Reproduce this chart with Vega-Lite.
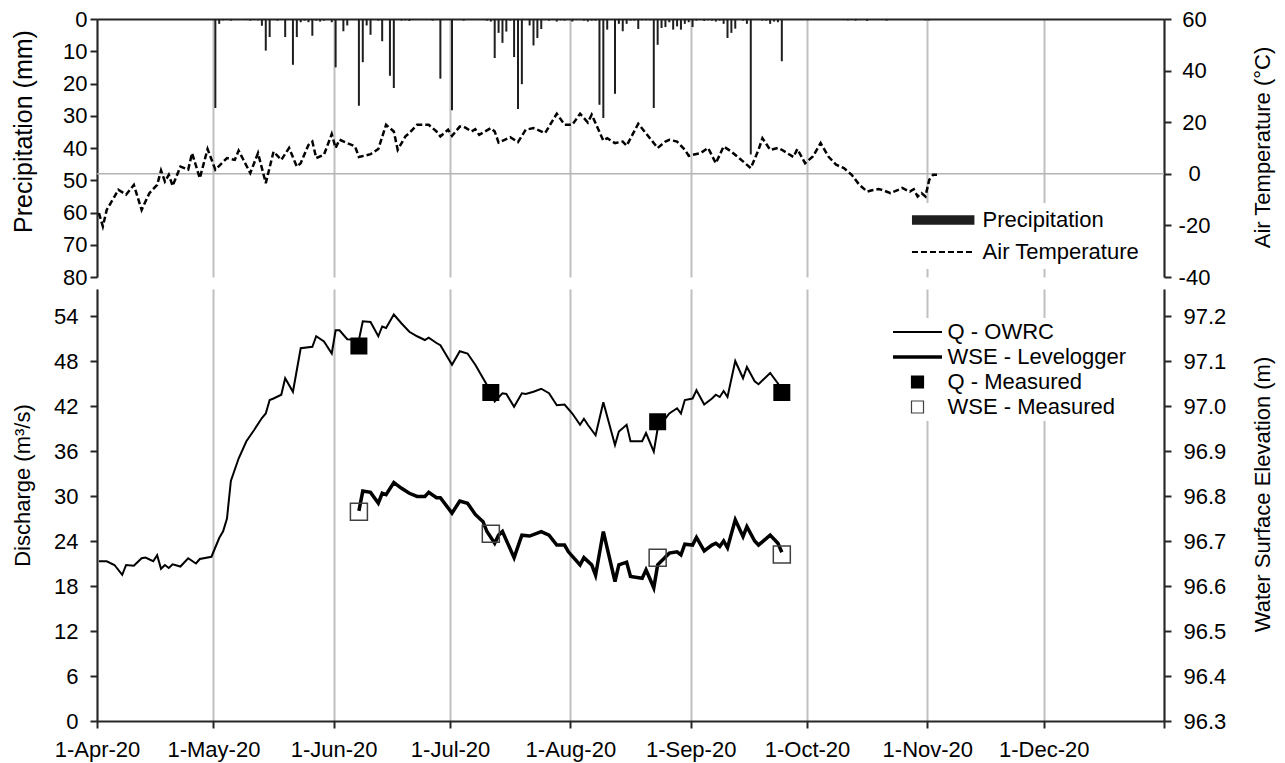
{
  "$schema": "https://vega.github.io/schema/vega-lite/v6.json",
  "padding": {"left": 11, "top": 8, "right": 5, "bottom": 5},
  "config": {
    "font": "Liberation Sans",
    "view": {"stroke": null},
    "axis": {"labelFont": "Liberation Sans", "titleFont": "Liberation Sans", "labelFontSize": 22, "labelColor": "#000000", "titleFontSize": 22, "titleFontWeight": "normal", "titleColor": "#000000", "domainColor": "#262626", "domainWidth": 2, "tickColor": "#262626", "tickWidth": 2, "tickSize": 7, "grid": false},
    "legend": {"labelFont": "Liberation Sans", "labelFontSize": 22, "labelColor": "#000000", "labelLimit": 400}
  },
  "datasets": {
    "zero": [{"degC": 0}],
    "temp": [
      {"date": "2020-04-01T12:00", "degC": -15.2}, {"date": "2020-04-02T12:00", "degC": -20.4}, {"date": "2020-04-03T12:00", "degC": -14.0},
      {"date": "2020-04-05T12:00", "degC": -8.8}, {"date": "2020-04-06T12:00", "degC": -6.2}, {"date": "2020-04-08T12:00", "degC": -8.1},
      {"date": "2020-04-10T12:00", "degC": -4.3}, {"date": "2020-04-12T12:00", "degC": -14.0}, {"date": "2020-04-14T12:00", "degC": -7.5},
      {"date": "2020-04-16T12:00", "degC": -4.3}, {"date": "2020-04-17T12:00", "degC": 1.3}, {"date": "2020-04-18T12:00", "degC": -3.0},
      {"date": "2020-04-19T12:00", "degC": -0.4}, {"date": "2020-04-20T12:00", "degC": -4.7}, {"date": "2020-04-22T12:00", "degC": 2.8},
      {"date": "2020-04-24T12:00", "degC": 1.6}, {"date": "2020-04-25T12:00", "degC": 8.0}, {"date": "2020-04-27T12:00", "degC": -1.7},
      {"date": "2020-04-29T12:00", "degC": 9.6}, {"date": "2020-05-01T12:00", "degC": 1.6}, {"date": "2020-05-04T12:00", "degC": 6.1},
      {"date": "2020-05-06T12:00", "degC": 5.4}, {"date": "2020-05-07T12:00", "degC": 9.0}, {"date": "2020-05-10T12:00", "degC": 0.3},
      {"date": "2020-05-12T12:00", "degC": 8.0}, {"date": "2020-05-14T12:00", "degC": -3.6}, {"date": "2020-05-16T12:00", "degC": 8.6},
      {"date": "2020-05-18T12:00", "degC": 5.4}, {"date": "2020-05-20T12:00", "degC": 10.0}, {"date": "2020-05-22T12:00", "degC": 2.8},
      {"date": "2020-05-23T12:00", "degC": 4.1}, {"date": "2020-05-25T12:00", "degC": 11.2}, {"date": "2020-05-26T12:00", "degC": 12.5},
      {"date": "2020-05-27T12:00", "degC": 6.1}, {"date": "2020-05-29T12:00", "degC": 7.4}, {"date": "2020-05-31T12:00", "degC": 15.4},
      {"date": "2020-06-01T12:00", "degC": 10.0}, {"date": "2020-06-02T12:00", "degC": 13.2}, {"date": "2020-06-04T12:00", "degC": 11.9},
      {"date": "2020-06-06T12:00", "degC": 10.6}, {"date": "2020-06-07T12:00", "degC": 6.5}, {"date": "2020-06-10T12:00", "degC": 7.6},
      {"date": "2020-06-12T12:00", "degC": 9.6}, {"date": "2020-06-14T12:00", "degC": 19.0}, {"date": "2020-06-16T12:00", "degC": 16.4},
      {"date": "2020-06-17T12:00", "degC": 9.3}, {"date": "2020-06-19T12:00", "degC": 14.5}, {"date": "2020-06-20T12:00", "degC": 15.8},
      {"date": "2020-06-22T12:00", "degC": 19.0}, {"date": "2020-06-25T12:00", "degC": 19.0}, {"date": "2020-06-27T12:00", "degC": 16.4},
      {"date": "2020-06-28T12:00", "degC": 14.5}, {"date": "2020-06-30T12:00", "degC": 17.1}, {"date": "2020-07-01T12:00", "degC": 14.7},
      {"date": "2020-07-03T12:00", "degC": 18.3}, {"date": "2020-07-04T12:00", "degC": 18.3}, {"date": "2020-07-06T12:00", "degC": 16.4},
      {"date": "2020-07-07T12:00", "degC": 17.3}, {"date": "2020-07-08T12:00", "degC": 15.1}, {"date": "2020-07-11T12:00", "degC": 17.7},
      {"date": "2020-07-12T12:00", "degC": 16.4}, {"date": "2020-07-13T12:00", "degC": 12.1}, {"date": "2020-07-16T12:00", "degC": 14.2},
      {"date": "2020-07-18T12:00", "degC": 12.3}, {"date": "2020-07-20T12:00", "degC": 17.1}, {"date": "2020-07-22T12:00", "degC": 17.7},
      {"date": "2020-07-25T12:00", "degC": 15.8}, {"date": "2020-07-28T12:00", "degC": 23.3}, {"date": "2020-07-30T12:00", "degC": 19.0},
      {"date": "2020-08-01T12:00", "degC": 19.0}, {"date": "2020-08-03T12:00", "degC": 23.3}, {"date": "2020-08-05T12:00", "degC": 19.9},
      {"date": "2020-08-06T12:00", "degC": 22.9}, {"date": "2020-08-07T12:00", "degC": 19.6}, {"date": "2020-08-09T12:00", "degC": 12.9},
      {"date": "2020-08-10T12:00", "degC": 13.8}, {"date": "2020-08-12T12:00", "degC": 11.9}, {"date": "2020-08-14T12:00", "degC": 12.5},
      {"date": "2020-08-15T12:00", "degC": 10.9}, {"date": "2020-08-18T12:00", "degC": 19.4}, {"date": "2020-08-21T12:00", "degC": 13.8},
      {"date": "2020-08-23T12:00", "degC": 10.0}, {"date": "2020-08-25T12:00", "degC": 12.5}, {"date": "2020-08-26T12:00", "degC": 13.2},
      {"date": "2020-08-28T12:00", "degC": 12.5}, {"date": "2020-08-30T12:00", "degC": 9.3}, {"date": "2020-08-31T12:00", "degC": 7.0},
      {"date": "2020-09-03T12:00", "degC": 8.0}, {"date": "2020-09-05T12:00", "degC": 10.0}, {"date": "2020-09-07T12:00", "degC": 4.1},
      {"date": "2020-09-09T12:00", "degC": 10.6}, {"date": "2020-09-11T12:00", "degC": 8.6}, {"date": "2020-09-14T12:00", "degC": 4.8},
      {"date": "2020-09-16T12:00", "degC": 2.2}, {"date": "2020-09-18T12:00", "degC": 9.3}, {"date": "2020-09-19T12:00", "degC": 13.8},
      {"date": "2020-09-21T12:00", "degC": 9.3}, {"date": "2020-09-23T12:00", "degC": 10.0}, {"date": "2020-09-24T12:00", "degC": 9.3},
      {"date": "2020-09-27T12:00", "degC": 6.5}, {"date": "2020-09-28T12:00", "degC": 9.6}, {"date": "2020-09-30T12:00", "degC": 4.1},
      {"date": "2020-10-02T12:00", "degC": 6.7}, {"date": "2020-10-04T12:00", "degC": 11.9}, {"date": "2020-10-06T12:00", "degC": 6.7},
      {"date": "2020-10-08T12:00", "degC": 3.5}, {"date": "2020-10-10T12:00", "degC": 2.2}, {"date": "2020-10-12T12:00", "degC": -0.4},
      {"date": "2020-10-14T12:00", "degC": -4.3}, {"date": "2020-10-16T12:00", "degC": -6.9}, {"date": "2020-10-17T12:00", "degC": -6.5},
      {"date": "2020-10-19T12:00", "degC": -5.9}, {"date": "2020-10-20T12:00", "degC": -6.3}, {"date": "2020-10-22T12:00", "degC": -7.5},
      {"date": "2020-10-24T12:00", "degC": -6.2}, {"date": "2020-10-25T12:00", "degC": -5.5}, {"date": "2020-10-27T12:00", "degC": -6.9},
      {"date": "2020-10-28T12:00", "degC": -6.0}, {"date": "2020-10-29T12:00", "degC": -8.8}, {"date": "2020-10-30T12:00", "degC": -7.5},
      {"date": "2020-10-31T12:00", "degC": -8.8}, {"date": "2020-11-01T12:00", "degC": -2.3}, {"date": "2020-11-02T12:00", "degC": -0.4},
      {"date": "2020-11-03T12:00", "degC": -0.4}
    ],
    "precip": [
      {"date": "2020-05-01T12:00", "mm": 27.6}, {"date": "2020-05-02T12:00", "mm": 1.5}, {"date": "2020-05-03T12:00", "mm": 0.4},
      {"date": "2020-05-04T12:00", "mm": 0.3}, {"date": "2020-05-05T12:00", "mm": 0.5}, {"date": "2020-05-09T12:00", "mm": 0.3},
      {"date": "2020-05-10T12:00", "mm": 0.5}, {"date": "2020-05-11T12:00", "mm": 0.3}, {"date": "2020-05-12T12:00", "mm": 0.4},
      {"date": "2020-05-13T12:00", "mm": 2.1}, {"date": "2020-05-14T12:00", "mm": 9.8}, {"date": "2020-05-15T12:00", "mm": 5.6},
      {"date": "2020-05-17T12:00", "mm": 0.5}, {"date": "2020-05-19T12:00", "mm": 5.6}, {"date": "2020-05-21T12:00", "mm": 14.2},
      {"date": "2020-05-22T12:00", "mm": 5.6}, {"date": "2020-05-23T12:00", "mm": 1.0}, {"date": "2020-05-24T12:00", "mm": 0.5},
      {"date": "2020-05-25T12:00", "mm": 1.0}, {"date": "2020-05-26T12:00", "mm": 5.2}, {"date": "2020-05-27T12:00", "mm": 0.5},
      {"date": "2020-05-28T12:00", "mm": 0.8}, {"date": "2020-05-29T12:00", "mm": 0.5}, {"date": "2020-05-31T12:00", "mm": 1.0},
      {"date": "2020-06-01T12:00", "mm": 15.0}, {"date": "2020-06-03T12:00", "mm": 3.8}, {"date": "2020-06-04T12:00", "mm": 2.0},
      {"date": "2020-06-07T12:00", "mm": 26.9}, {"date": "2020-06-08T12:00", "mm": 13.4}, {"date": "2020-06-09T12:00", "mm": 2.0},
      {"date": "2020-06-10T12:00", "mm": 4.9}, {"date": "2020-06-12T12:00", "mm": 0.5}, {"date": "2020-06-13T12:00", "mm": 6.9},
      {"date": "2020-06-15T12:00", "mm": 17.6}, {"date": "2020-06-16T12:00", "mm": 21.4}, {"date": "2020-06-18T12:00", "mm": 0.5},
      {"date": "2020-06-19T12:00", "mm": 0.4}, {"date": "2020-06-20T12:00", "mm": 0.6}, {"date": "2020-06-21T12:00", "mm": 0.3},
      {"date": "2020-06-26T12:00", "mm": 0.5}, {"date": "2020-06-28T12:00", "mm": 18.5}, {"date": "2020-07-01T12:00", "mm": 28.3},
      {"date": "2020-07-04T12:00", "mm": 0.5}, {"date": "2020-07-10T12:00", "mm": 0.5}, {"date": "2020-07-11T12:00", "mm": 0.8},
      {"date": "2020-07-12T12:00", "mm": 12.1}, {"date": "2020-07-13T12:00", "mm": 4.3}, {"date": "2020-07-14T12:00", "mm": 7.4},
      {"date": "2020-07-15T12:00", "mm": 3.9}, {"date": "2020-07-16T12:00", "mm": 0.5}, {"date": "2020-07-17T12:00", "mm": 11.8},
      {"date": "2020-07-18T12:00", "mm": 27.9}, {"date": "2020-07-19T12:00", "mm": 20.2}, {"date": "2020-07-21T12:00", "mm": 2.0},
      {"date": "2020-07-22T12:00", "mm": 8.2}, {"date": "2020-07-23T12:00", "mm": 5.9}, {"date": "2020-07-24T12:00", "mm": 3.1},
      {"date": "2020-07-26T12:00", "mm": 0.5}, {"date": "2020-07-27T12:00", "mm": 0.3}, {"date": "2020-07-28T12:00", "mm": 0.8},
      {"date": "2020-07-29T12:00", "mm": 0.4}, {"date": "2020-07-30T12:00", "mm": 0.5}, {"date": "2020-08-01T12:00", "mm": 0.8},
      {"date": "2020-08-04T12:00", "mm": 0.5}, {"date": "2020-08-05T12:00", "mm": 0.8}, {"date": "2020-08-06T12:00", "mm": 0.5},
      {"date": "2020-08-07T12:00", "mm": 0.5}, {"date": "2020-08-08T12:00", "mm": 26.6}, {"date": "2020-08-09T12:00", "mm": 30.7},
      {"date": "2020-08-10T12:00", "mm": 3.3}, {"date": "2020-08-12T12:00", "mm": 23.2}, {"date": "2020-08-13T12:00", "mm": 1.5},
      {"date": "2020-08-14T12:00", "mm": 3.8}, {"date": "2020-08-15T12:00", "mm": 1.5}, {"date": "2020-08-16T12:00", "mm": 0.5},
      {"date": "2020-08-17T12:00", "mm": 0.5}, {"date": "2020-08-18T12:00", "mm": 3.1}, {"date": "2020-08-19T12:00", "mm": 0.4},
      {"date": "2020-08-20T12:00", "mm": 0.4}, {"date": "2020-08-21T12:00", "mm": 0.4}, {"date": "2020-08-22T12:00", "mm": 27.6},
      {"date": "2020-08-23T12:00", "mm": 8.0}, {"date": "2020-08-24T12:00", "mm": 2.8}, {"date": "2020-08-25T12:00", "mm": 2.5},
      {"date": "2020-08-26T12:00", "mm": 1.0}, {"date": "2020-08-27T12:00", "mm": 3.3}, {"date": "2020-08-28T12:00", "mm": 2.3},
      {"date": "2020-08-29T12:00", "mm": 3.3}, {"date": "2020-08-30T12:00", "mm": 1.5}, {"date": "2020-08-31T12:00", "mm": 1.0},
      {"date": "2020-09-01T12:00", "mm": 2.5}, {"date": "2020-09-02T12:00", "mm": 0.5}, {"date": "2020-09-03T12:00", "mm": 0.3},
      {"date": "2020-09-04T12:00", "mm": 0.6}, {"date": "2020-09-05T12:00", "mm": 0.4}, {"date": "2020-09-06T12:00", "mm": 0.5},
      {"date": "2020-09-07T12:00", "mm": 0.8}, {"date": "2020-09-08T12:00", "mm": 0.5}, {"date": "2020-09-09T12:00", "mm": 1.5},
      {"date": "2020-09-10T12:00", "mm": 5.9}, {"date": "2020-09-11T12:00", "mm": 4.3}, {"date": "2020-09-12T12:00", "mm": 3.0},
      {"date": "2020-09-14T12:00", "mm": 0.5}, {"date": "2020-09-15T12:00", "mm": 1.5}, {"date": "2020-09-16T12:00", "mm": 42.0},
      {"date": "2020-09-19T12:00", "mm": 0.5}, {"date": "2020-09-20T12:00", "mm": 0.5}, {"date": "2020-09-21T12:00", "mm": 1.5},
      {"date": "2020-09-22T12:00", "mm": 0.8}, {"date": "2020-09-23T12:00", "mm": 1.0}, {"date": "2020-09-24T12:00", "mm": 13.1},
      {"date": "2020-10-10T12:00", "mm": 0.3}, {"date": "2020-10-11T12:00", "mm": 0.4}, {"date": "2020-10-12T12:00", "mm": 0.3},
      {"date": "2020-10-13T12:00", "mm": 0.5}, {"date": "2020-10-16T12:00", "mm": 0.6}, {"date": "2020-10-21T12:00", "mm": 0.5},
      {"date": "2020-10-31T12:00", "mm": 0.4}, {"date": "2020-11-01T12:00", "mm": 0.4}
    ],
    "q": [
      {"date": "2020-04-01T12:00", "Q": 21.3}, {"date": "2020-04-03T12:00", "Q": 21.3}, {"date": "2020-04-05T12:00", "Q": 20.8},
      {"date": "2020-04-07T12:00", "Q": 19.5}, {"date": "2020-04-08T12:00", "Q": 20.8}, {"date": "2020-04-10T12:00", "Q": 20.7},
      {"date": "2020-04-12T12:00", "Q": 21.7}, {"date": "2020-04-13T12:00", "Q": 21.8}, {"date": "2020-04-15T12:00", "Q": 21.3},
      {"date": "2020-04-16T12:00", "Q": 22.1}, {"date": "2020-04-17T12:00", "Q": 20.3}, {"date": "2020-04-18T12:00", "Q": 20.8},
      {"date": "2020-04-19T12:00", "Q": 20.4}, {"date": "2020-04-20T12:00", "Q": 20.9}, {"date": "2020-04-22T12:00", "Q": 20.6},
      {"date": "2020-04-24T12:00", "Q": 21.7}, {"date": "2020-04-26T12:00", "Q": 21.0}, {"date": "2020-04-27T12:00", "Q": 21.6},
      {"date": "2020-04-30T12:00", "Q": 21.9}, {"date": "2020-05-02T12:00", "Q": 24.4}, {"date": "2020-05-03T12:00", "Q": 25.3},
      {"date": "2020-05-04T12:00", "Q": 27.0}, {"date": "2020-05-05T12:00", "Q": 32.0}, {"date": "2020-05-06T12:00", "Q": 33.5},
      {"date": "2020-05-07T12:00", "Q": 35.0}, {"date": "2020-05-09T12:00", "Q": 37.3}, {"date": "2020-05-11T12:00", "Q": 38.8},
      {"date": "2020-05-13T12:00", "Q": 40.4}, {"date": "2020-05-14T12:00", "Q": 41.0}, {"date": "2020-05-15T12:00", "Q": 42.8},
      {"date": "2020-05-16T12:00", "Q": 43.0}, {"date": "2020-05-18T12:00", "Q": 43.5}, {"date": "2020-05-19T12:00", "Q": 45.7},
      {"date": "2020-05-21T12:00", "Q": 43.9}, {"date": "2020-05-23T12:00", "Q": 49.7}, {"date": "2020-05-26T12:00", "Q": 49.9},
      {"date": "2020-05-27T12:00", "Q": 51.3}, {"date": "2020-05-29T12:00", "Q": 50.6}, {"date": "2020-05-31T12:00", "Q": 49.0},
      {"date": "2020-06-01T12:00", "Q": 52.1}, {"date": "2020-06-02T12:00", "Q": 52.1}, {"date": "2020-06-04T12:00", "Q": 50.9},
      {"date": "2020-06-07T12:00", "Q": 50.8}, {"date": "2020-06-08T12:00", "Q": 53.3}, {"date": "2020-06-10T12:00", "Q": 53.2},
      {"date": "2020-06-12T12:00", "Q": 51.3}, {"date": "2020-06-13T12:00", "Q": 52.6}, {"date": "2020-06-14T12:00", "Q": 52.4},
      {"date": "2020-06-16T12:00", "Q": 54.2}, {"date": "2020-06-18T12:00", "Q": 53.0}, {"date": "2020-06-20T12:00", "Q": 51.9},
      {"date": "2020-06-22T12:00", "Q": 51.3}, {"date": "2020-06-24T12:00", "Q": 50.8}, {"date": "2020-06-25T12:00", "Q": 51.1},
      {"date": "2020-06-27T12:00", "Q": 50.4}, {"date": "2020-06-28T12:00", "Q": 50.1}, {"date": "2020-07-01T12:00", "Q": 47.5},
      {"date": "2020-07-03T12:00", "Q": 49.3}, {"date": "2020-07-05T12:00", "Q": 49.0}, {"date": "2020-07-07T12:00", "Q": 47.5},
      {"date": "2020-07-09T12:00", "Q": 45.7}, {"date": "2020-07-11T12:00", "Q": 43.9}, {"date": "2020-07-12T12:00", "Q": 42.6},
      {"date": "2020-07-14T12:00", "Q": 43.7}, {"date": "2020-07-15T12:00", "Q": 43.6}, {"date": "2020-07-17T12:00", "Q": 41.9},
      {"date": "2020-07-19T12:00", "Q": 43.7}, {"date": "2020-07-20T12:00", "Q": 43.6}, {"date": "2020-07-22T12:00", "Q": 43.9},
      {"date": "2020-07-24T12:00", "Q": 44.3}, {"date": "2020-07-26T12:00", "Q": 43.7}, {"date": "2020-07-28T12:00", "Q": 42.1},
      {"date": "2020-07-30T12:00", "Q": 42.2}, {"date": "2020-08-01T12:00", "Q": 41.0}, {"date": "2020-08-03T12:00", "Q": 39.5},
      {"date": "2020-08-04T12:00", "Q": 40.3}, {"date": "2020-08-05T12:00", "Q": 39.5}, {"date": "2020-08-07T12:00", "Q": 38.1},
      {"date": "2020-08-09T12:00", "Q": 42.5}, {"date": "2020-08-12T12:00", "Q": 36.8}, {"date": "2020-08-13T12:00", "Q": 38.6},
      {"date": "2020-08-15T12:00", "Q": 39.5}, {"date": "2020-08-16T12:00", "Q": 37.3}, {"date": "2020-08-19T12:00", "Q": 37.3},
      {"date": "2020-08-20T12:00", "Q": 38.4}, {"date": "2020-08-22T12:00", "Q": 35.9}, {"date": "2020-08-23T12:00", "Q": 39.0},
      {"date": "2020-08-26T12:00", "Q": 41.0}, {"date": "2020-08-28T12:00", "Q": 41.7}, {"date": "2020-08-29T12:00", "Q": 41.0},
      {"date": "2020-08-30T12:00", "Q": 42.8}, {"date": "2020-09-01T12:00", "Q": 43.0}, {"date": "2020-09-02T12:00", "Q": 44.1},
      {"date": "2020-09-04T12:00", "Q": 42.2}, {"date": "2020-09-06T12:00", "Q": 43.0}, {"date": "2020-09-07T12:00", "Q": 43.5},
      {"date": "2020-09-08T12:00", "Q": 43.2}, {"date": "2020-09-09T12:00", "Q": 44.0}, {"date": "2020-09-10T12:00", "Q": 43.2},
      {"date": "2020-09-12T12:00", "Q": 48.0}, {"date": "2020-09-14T12:00", "Q": 45.7}, {"date": "2020-09-15T12:00", "Q": 47.2},
      {"date": "2020-09-17T12:00", "Q": 45.3}, {"date": "2020-09-18T12:00", "Q": 44.9}, {"date": "2020-09-21T12:00", "Q": 46.4},
      {"date": "2020-09-23T12:00", "Q": 45.0}, {"date": "2020-09-24T12:00", "Q": 44.0}
    ],
    "wse": [
      {"date": "2020-06-07T12:00", "WSE": 96.767}, {"date": "2020-06-08T12:00", "WSE": 96.811}, {"date": "2020-06-10T12:00", "WSE": 96.808},
      {"date": "2020-06-12T12:00", "WSE": 96.784}, {"date": "2020-06-13T12:00", "WSE": 96.806}, {"date": "2020-06-14T12:00", "WSE": 96.803},
      {"date": "2020-06-16T12:00", "WSE": 96.830}, {"date": "2020-06-18T12:00", "WSE": 96.817}, {"date": "2020-06-20T12:00", "WSE": 96.806},
      {"date": "2020-06-22T12:00", "WSE": 96.799}, {"date": "2020-06-24T12:00", "WSE": 96.799}, {"date": "2020-06-25T12:00", "WSE": 96.808},
      {"date": "2020-06-27T12:00", "WSE": 96.796}, {"date": "2020-06-28T12:00", "WSE": 96.796}, {"date": "2020-07-01T12:00", "WSE": 96.762},
      {"date": "2020-07-03T12:00", "WSE": 96.789}, {"date": "2020-07-05T12:00", "WSE": 96.784}, {"date": "2020-07-07T12:00", "WSE": 96.759},
      {"date": "2020-07-09T12:00", "WSE": 96.743}, {"date": "2020-07-10T12:00", "WSE": 96.721}, {"date": "2020-07-12T12:00", "WSE": 96.695},
      {"date": "2020-07-13T12:00", "WSE": 96.713}, {"date": "2020-07-14T12:00", "WSE": 96.721}, {"date": "2020-07-17T12:00", "WSE": 96.663},
      {"date": "2020-07-19T12:00", "WSE": 96.713}, {"date": "2020-07-21T12:00", "WSE": 96.711}, {"date": "2020-07-24T12:00", "WSE": 96.721},
      {"date": "2020-07-26T12:00", "WSE": 96.713}, {"date": "2020-07-28T12:00", "WSE": 96.691}, {"date": "2020-07-30T12:00", "WSE": 96.691},
      {"date": "2020-07-31T12:00", "WSE": 96.676}, {"date": "2020-08-03T12:00", "WSE": 96.647}, {"date": "2020-08-04T12:00", "WSE": 96.663},
      {"date": "2020-08-06T12:00", "WSE": 96.647}, {"date": "2020-08-07T12:00", "WSE": 96.624}, {"date": "2020-08-09T12:00", "WSE": 96.721},
      {"date": "2020-08-12T12:00", "WSE": 96.610}, {"date": "2020-08-13T12:00", "WSE": 96.647}, {"date": "2020-08-15T12:00", "WSE": 96.653},
      {"date": "2020-08-16T12:00", "WSE": 96.621}, {"date": "2020-08-19T12:00", "WSE": 96.617}, {"date": "2020-08-20T12:00", "WSE": 96.636},
      {"date": "2020-08-22T12:00", "WSE": 96.596}, {"date": "2020-08-23T12:00", "WSE": 96.647}, {"date": "2020-08-26T12:00", "WSE": 96.673},
      {"date": "2020-08-28T12:00", "WSE": 96.676}, {"date": "2020-08-29T12:00", "WSE": 96.669}, {"date": "2020-08-30T12:00", "WSE": 96.693},
      {"date": "2020-09-01T12:00", "WSE": 96.691}, {"date": "2020-09-02T12:00", "WSE": 96.708}, {"date": "2020-09-04T12:00", "WSE": 96.678},
      {"date": "2020-09-06T12:00", "WSE": 96.691}, {"date": "2020-09-07T12:00", "WSE": 96.695}, {"date": "2020-09-08T12:00", "WSE": 96.688},
      {"date": "2020-09-09T12:00", "WSE": 96.700}, {"date": "2020-09-10T12:00", "WSE": 96.685}, {"date": "2020-09-12T12:00", "WSE": 96.747},
      {"date": "2020-09-14T12:00", "WSE": 96.710}, {"date": "2020-09-15T12:00", "WSE": 96.732}, {"date": "2020-09-17T12:00", "WSE": 96.700},
      {"date": "2020-09-18T12:00", "WSE": 96.691}, {"date": "2020-09-21T12:00", "WSE": 96.713}, {"date": "2020-09-23T12:00", "WSE": 96.695},
      {"date": "2020-09-24T12:00", "WSE": 96.675}
    ],
    "qm": [
      {"date": "2020-06-07T12:00", "Q": 50.0}, {"date": "2020-07-11T12:00", "Q": 43.8},
      {"date": "2020-08-23T12:00", "Q": 39.9}, {"date": "2020-09-24T12:00", "Q": 43.8}
    ],
    "wsem": [
      {"date": "2020-06-07T12:00", "WSE": 96.765}, {"date": "2020-07-11T12:00", "WSE": 96.716},
      {"date": "2020-08-23T12:00", "WSE": 96.663}, {"date": "2020-09-24T12:00", "WSE": 96.670}
    ]
  },
  "vconcat": [
    {
      "width": 1067,
      "height": 258,
      "layer": [
        {
          "data": {"name": "precip"},
          "mark": {"type": "bar", "size": 2},
          "encoding": {
            "x": {"field": "date", "type": "temporal",
              "scale": {"domain": [{"year": 2020, "month": 4, "date": 1}, {"year": 2021, "month": 1, "date": 1}], "padding": 0},
              "axis": {"orient": "top", "title": null, "labels": false, "ticks": false, "domain": true, "grid": true, "gridColor": "#c0c0c0", "gridWidth": 2,
                "values": [{"year": 2020, "month": 4, "date": 1}, {"year": 2020, "month": 5, "date": 1}, {"year": 2020, "month": 6, "date": 1}, {"year": 2020, "month": 7, "date": 1}, {"year": 2020, "month": 8, "date": 1}, {"year": 2020, "month": 9, "date": 1}, {"year": 2020, "month": 10, "date": 1}, {"year": 2020, "month": 11, "date": 1}, {"year": 2020, "month": 12, "date": 1}, {"year": 2021, "month": 1, "date": 1}]}},
            "y": {"field": "mm", "type": "quantitative",
              "scale": {"domain": [0, 80], "reverse": true, "nice": false, "padding": 0},
              "axis": {"orient": "left", "values": [0, 10, 20, 30, 40, 50, 60, 70, 80], "labelPadding": 3, "title": "Precipitation (mm)", "titleFontSize": 25, "titleAngle": 270, "titleX": -74, "titleY": 112, "titleBaseline": "middle", "titleAlign": "center"}},
            "color": {"datum": "Precipitation", "type": "nominal",
              "scale": {"domain": ["Precipitation", "Air Temperature"], "range": ["#1e1e1e", "#000000"]},
              "legend": {"title": null, "orient": "none", "legendX": 809, "legendY": 184, "direction": "vertical", "columns": 1, "fillColor": "white", "padding": 6, "rowPadding": 10, "labelOffset": 28.4, "symbolOffset": 20.2, "symbolSize": 3900,
                "encode": {"symbols": {"update": {
                  "shape": {"signal": "datum.value === 'Precipitation' ? 'M-1,-0.15L1,-0.15L1,0.15L-1,0.15Z' : 'stroke'"},
                  "fill": {"value": "black"},
                  "fillOpacity": {"value": 1},
                  "stroke": {"value": "black"},
                  "strokeWidth": {"signal": "datum.value === 'Precipitation' ? 0 : 2"},
                  "strokeDash": {"signal": "datum.value === 'Precipitation' ? [1, 0] : [6, 3]"},
                  "opacity": {"value": 1}
                }}}}}
          }
        },
        {
          "layer": [
            {
              "data": {"name": "zero"},
              "mark": {"type": "rule", "color": "#b3b3b3", "strokeWidth": 1.5},
              "encoding": {"y": {"field": "degC", "type": "quantitative"}}
            },
            {
              "data": {"name": "temp"},
              "mark": {"type": "line", "strokeDash": [6, 3], "strokeWidth": 2.5},
              "encoding": {
                "x": {"field": "date", "type": "temporal", "scale": {"padding": 0}},
                "y": {"field": "degC", "type": "quantitative",
                  "scale": {"domain": [-40, 60], "nice": false, "padding": 0},
                  "axis": {"orient": "right", "values": [-40, -20, 0, 20, 40, 60], "labelExpr": "datum.value + ''", "labelAlign": "center", "labelPadding": 23, "title": "Air Temperature (°C)", "titleAngle": 270, "titleX": 98, "titleY": 128, "titleBaseline": "middle", "titleAlign": "center"}},
                "color": {"datum": "Air Temperature", "type": "nominal"}
              }
            }
          ]
        }
      ],
      "resolve": {"scale": {"y": "independent"}}
    },
    {
      "width": 1067,
      "height": 432,
      "layer": [
        {
          "layer": [
            {
              "data": {"name": "q"},
              "mark": {"type": "line", "strokeWidth": 2},
              "encoding": {
                "x": {"field": "date", "type": "temporal",
                  "scale": {"domain": [{"year": 2020, "month": 4, "date": 1}, {"year": 2021, "month": 1, "date": 1}], "padding": 0},
                  "axis": {"orient": "bottom", "title": null, "grid": true, "gridColor": "#c0c0c0", "gridWidth": 2, "labelPadding": 11, "labelFlush": false, "labelOverlap": false,
                    "labelExpr": "month(datum.value) == 0 ? '' : timeFormat(datum.value, '%-d-%b-%y')",
                    "values": [{"year": 2020, "month": 4, "date": 1}, {"year": 2020, "month": 5, "date": 1}, {"year": 2020, "month": 6, "date": 1}, {"year": 2020, "month": 7, "date": 1}, {"year": 2020, "month": 8, "date": 1}, {"year": 2020, "month": 9, "date": 1}, {"year": 2020, "month": 10, "date": 1}, {"year": 2020, "month": 11, "date": 1}, {"year": 2020, "month": 12, "date": 1}, {"year": 2021, "month": 1, "date": 1}]}},
                "y": {"field": "Q", "type": "quantitative",
                  "scale": {"domain": [0, 57.6], "nice": false},
                  "axis": {"orient": "left", "values": [0, 6, 12, 18, 24, 30, 36, 42, 48, 54], "labelPadding": 12, "title": "Discharge (m³/s)", "titleAngle": 270, "titleX": -75, "titleY": 196, "titleBaseline": "middle", "titleAlign": "center"}},
                "color": {"datum": "Q - OWRC", "type": "nominal",
                  "scale": {"domain": ["Q - OWRC", "WSE - Levelogger", "Q - Measured", "WSE - Measured"], "range": ["#000000", "#000000", "#000000", "#404040"]},
                  "legend": {"title": null, "orient": "none", "legendX": 791, "legendY": 29, "direction": "vertical", "columns": 1, "fillColor": "white", "padding": 3, "rowPadding": 3, "labelOffset": 19.1, "symbolOffset": 15.5, "symbolSize": 2401,
                    "encode": {"symbols": {"update": {
                      "shape": {"signal": "indexof(['Q - Measured', 'WSE - Measured'], datum.value) >= 0 ? 'square' : 'stroke'"},
                      "size": {"signal": "indexof(['Q - Measured', 'WSE - Measured'], datum.value) >= 0 ? 144 : 2401"},
                      "fillOpacity": {"signal": "datum.value === 'WSE - Measured' ? 0 : 1"},
                      "strokeWidth": {"signal": "datum.value === 'WSE - Levelogger' ? 3.5 : (datum.value === 'Q - OWRC' ? 2 : 1.2)"},
                      "opacity": {"value": 1}
                    }}}}}
              }
            },
            {
              "data": {"name": "qm"},
              "mark": {"type": "point", "shape": "square", "size": 289, "filled": true, "opacity": 1},
              "encoding": {
                "x": {"field": "date", "type": "temporal"},
                "y": {"field": "Q", "type": "quantitative"},
                "color": {"datum": "Q - Measured", "type": "nominal"}
              }
            }
          ]
        },
        {
          "layer": [
            {
              "data": {"name": "wse"},
              "mark": {"type": "line", "strokeWidth": 3.5},
              "encoding": {
                "x": {"field": "date", "type": "temporal"},
                "y": {"field": "WSE", "type": "quantitative",
                  "scale": {"domain": [96.3, 97.26], "nice": false, "zero": false},
                  "axis": {"orient": "right", "values": [96.3, 96.4, 96.5, 96.6, 96.7, 96.8, 96.9, 97.0, 97.1, 97.2], "format": ".1f", "labelAlign": "left", "labelPadding": 12, "title": "Water Surface Elevation (m)", "titleAngle": 270, "titleX": 98, "titleY": 205, "titleBaseline": "middle", "titleAlign": "center"}},
                "color": {"datum": "WSE - Levelogger", "type": "nominal"}
              }
            },
            {
              "data": {"name": "wsem"},
              "mark": {"type": "point", "shape": "square", "size": 289, "filled": false, "strokeWidth": 1.5, "opacity": 1},
              "encoding": {
                "x": {"field": "date", "type": "temporal"},
                "y": {"field": "WSE", "type": "quantitative"},
                "color": {"datum": "WSE - Measured", "type": "nominal"}
              }
            }
          ]
        }
      ],
      "resolve": {"scale": {"y": "independent"}}
    }
  ],
  "spacing": 1,
  "resolve": {"scale": {"color": "independent"}, "legend": {"color": "independent"}}
}
